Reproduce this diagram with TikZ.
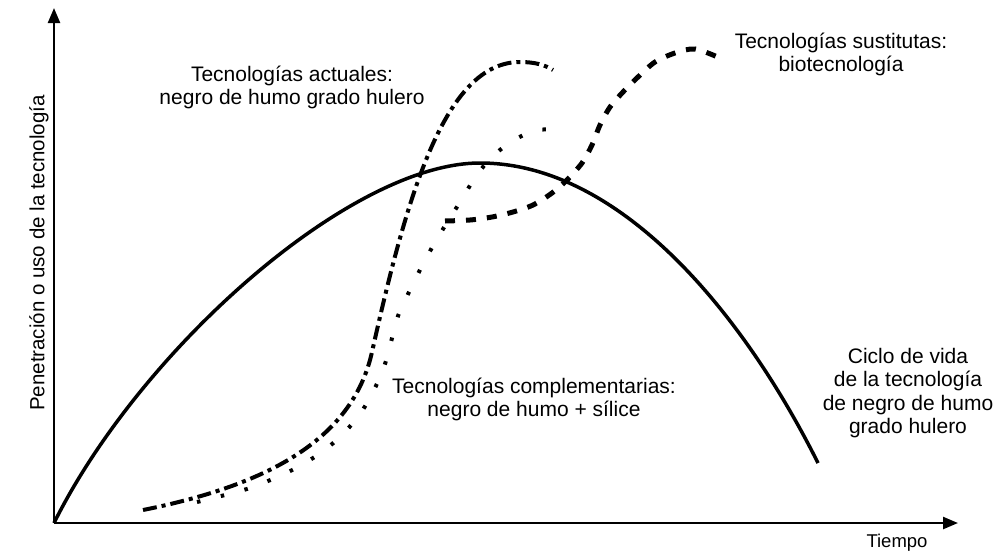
\documentclass[tikz,border=0pt]{standalone}
\usepackage{fontspec}
\setmainfont{Liberation Sans}
\usetikzlibrary{arrows.meta}
\tikzset{
  axisline/.style={line width=2.4pt, -{Triangle[length=15pt,width=12pt]}},
  lifecurve/.style={line width=3.5pt},
  dashdotcurve/.style={line width=4pt, dash pattern=on 14pt off 5pt on 4pt off 5pt},
  dotcurve/.style={line width=4pt, dash pattern=on 3.5pt off 21pt},
  dashcurve/.style={line width=5pt, dash pattern=on 10pt off 11pt},
  lbl/.style={font=\fontsize{21}{23.3}\selectfont, align=center, inner sep=0pt, anchor=north},
}
\begin{document}
\begin{tikzpicture}[x=1pt,y=-1pt]
\useasboundingbox (0,0) rectangle (1006,554);
\coordinate (O) at (54,523);
\coordinate (ytip) at (54,8);
\coordinate (xtip) at (958,523);
\draw[axisline] (O) -- (ytip);
\draw[axisline] (O) -- (xtip);

% life cycle (solid)
\coordinate (peak) at (480,163);
\coordinate (lifeend) at (818,463);
\draw[lifecurve] (O) .. controls (140,350) and (350,163) .. (peak)
                     .. controls (620,163) and (743,313) .. (lifeend);

% current technologies (dash-dot)
\coordinate (ddA) at (143,510);
\coordinate (ddB) at (372,352);
\coordinate (ddC) at (520,62);
\coordinate (ddD) at (553,70);
\draw[dashdotcurve] (ddA) .. controls (263,486) and (352,442) .. (ddB)
                          .. controls (407,195) and (445,62) .. (ddC)
                          .. controls (535,62) and (545,65) .. (ddD);

% complementary technologies (dotted)
\draw[dotcurve] plot[smooth, tension=0.5] coordinates {
 (197,502) (225,495) (250,488) (275,478) (298,467) (322,452) (342,435) (360,414)
 (373,392) (384,367) (391,342) (398,316) (409,292) (421,268) (434,244) (448,221)
 (462,199) (476,176) (493,156) (514,140) (538,130) (565,130)};

% substitute technologies (dashed)
\draw[dashcurve] plot[smooth, tension=0.5] coordinates {
 (445,221) (470,220) (492,217) (513,212) (533,205) (552,193) (567,180) (582,163)
 (592,145) (600,125) (610,107) (623,92) (638,77) (655,62) (675,53) (695,49) (720,58)};

\node[lbl] (actual) at (292,66) {Tecnologías actuales:\\negro de humo grado hulero};
\node[lbl] (sust) at (841,33) {Tecnologías sustitutas:\\biotecnología};
\node[lbl] (comp) at (534,378) {Tecnologías complementarias:\\negro de humo + sílice};
\node[lbl] (ciclo) at (908,348) {Ciclo de vida\\de la tecnología\\de negro de humo\\grado hulero};
\node[lbl, font=\fontsize{18.5}{21}\selectfont] (tiempo) at (897,534) {Tiempo};
\node[lbl, anchor=center, rotate=90, font=\fontsize{20.5}{23}\selectfont] (ylab) at (39,253) {Penetración o uso de la tecnología};
\end{tikzpicture}
\end{document}
